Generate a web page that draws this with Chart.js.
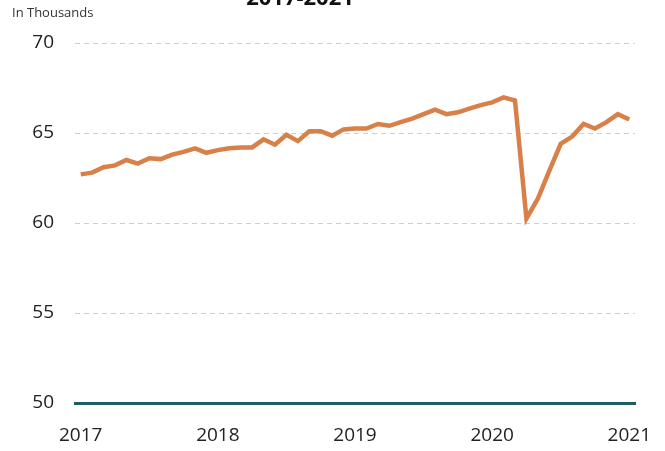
<!DOCTYPE html>
<html>
<head>
<meta charset="utf-8">
<script src="https://cdn.jsdelivr.net/npm/chart.js@4"></script>
<style>
    html, body { margin: 0; padding: 0; background: #fff; }
    #wrap { width: 665px; height: 451px; position: relative; }
</style>
</head>
<body>
<div id="wrap"><canvas id="jobsChart"></canvas></div>
<script>
// Monthly values, Jan 2017 - Jan 2021 (in thousands)
const years = ['2017', '2018', '2019', '2020', '2021'];
const months = ['01', '02', '03', '04', '05', '06', '07', '08', '09', '10', '11', '12'];
const monthLabels = [];
years.forEach(function (y) {
    months.forEach(function (m) {
        if (y !== '2021' || m === '01') monthLabels.push(y + '-' + m);
    });
});

const values = [
    62.7, 62.8, 63.1, 63.2, 63.5, 63.3, 63.6, 63.55, 63.8, 63.95, 64.15, 63.9,
    64.05, 64.15, 64.2, 64.2, 64.65, 64.35, 64.9, 64.55, 65.1, 65.1, 64.85, 65.2,
    65.25, 65.25, 65.5, 65.4, 65.6, 65.8, 66.05, 66.3, 66.05, 66.15, 66.35, 66.55,
    66.7, 66.98, 66.8, 60.25, 61.35, 62.9, 64.4, 64.8, 65.5, 65.25, 65.6, 66.05,
    65.75
];
const yTicks = [50, 55, 60, 65, 70];

const fontFamily = "'Open Sans', 'Noto Sans', sans-serif";

// title cut off at top + unit label
const headerText = {
    id: 'headerText',
    afterDraw: function (chart) {
        const ctx = chart.ctx;
        ctx.save();
        ctx.fillStyle = '#111';
        ctx.font = 'bold 22px ' + fontFamily;
        ctx.textAlign = 'center';
        ctx.textBaseline = 'alphabetic';
        ctx.fillText('2017-2021', 300, 5);
        ctx.fillStyle = '#333';
        ctx.font = '13px ' + fontFamily;
        ctx.textAlign = 'left';
        ctx.fillText('In Thousands', 12, 17);
        ctx.restore();
    }
};

const ctx = document.getElementById('jobsChart').getContext('2d');
new Chart(ctx, {
    type: 'line',
    data: {
        labels: monthLabels,
        datasets: [{
            data: values,
            borderColor: '#D8804A',
            borderWidth: 4.5,
            pointRadius: 0,
            tension: 0,
            fill: false
        }]
    },
    options: {
        responsive: true,
        maintainAspectRatio: false,
        animation: false,
        layout: { padding: { top: 43, right: 30, bottom: 0, left: 0 } },
        plugins: {
            legend: { display: false },
            tooltip: { enabled: false }
        },
        scales: {
            x: {
                type: 'category',
                offset: true,
                grid: { display: false, drawTicks: false },
                border: { display: true, color: '#1E5E62', width: 3 },
                afterFit: function (scale) {
                    scale.height = 48;
                    scale.paddingLeft = 0;
                    scale.paddingRight = 0;
                },
                ticks: {
                    autoSkip: false,
                    maxRotation: 0,
                    padding: 21,
                    color: '#222',
                    font: { family: fontFamily, size: 19 },
                    callback: function (val, i) {
                        const lab = monthLabels[i];
                        return lab.endsWith('-01') ? lab.slice(0, 4) : '';
                    }
                }
            },
            y: {
                min: 50,
                max: 70,
                afterFit: function (scale) { scale.width = 75; },
                afterBuildTicks: function (scale) {
                    scale.ticks = yTicks.map(function (v) { return { value: v }; });
                },
                grid: { color: '#cfcfcf', lineWidth: 1, drawTicks: false },
                border: { display: false, dash: [5, 4] },
                ticks: {
                    padding: 21,
                    color: '#222',
                    font: { family: fontFamily, size: 19 }
                }
            }
        }
    },
    plugins: [headerText]
});
</script>
</body>
</html>
